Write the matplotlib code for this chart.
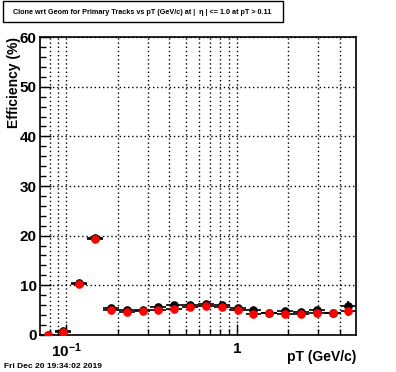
import numpy as np
import matplotlib
matplotlib.use("Agg")
import matplotlib.pyplot as plt
from matplotlib.patches import Rectangle
from matplotlib.ticker import FixedLocator, NullFormatter, MultipleLocator

plt.rcParams['font.family'] = ['Liberation Sans', 'DejaVu Sans']
plt.rcParams['mathtext.fontset'] = 'custom'
plt.rcParams['mathtext.rm'] = 'Liberation Sans:bold'
plt.rcParams['mathtext.bf'] = 'Liberation Sans:bold'
plt.rcParams['mathtext.default'] = 'bf'

# pT binning (log bins, 20 bins from 0.07 to 5 GeV/c)
pt_edges = np.geomspace(0.07, 5.0, 21)
pt = np.sqrt(pt_edges[:-1] * pt_edges[1:])

# efficiencies (%)
eff_black = [0.0, 0.7, 10.4, 19.5, 5.4, 5.0, 5.0, 5.6, 6.0, 6.1,
             6.3, 6.0, 5.4, 4.9, 4.4, 4.8, 4.6, 5.0, 4.4, 5.8]
eff_red = [0.0, 0.6, 10.2, 19.3, 4.9, 4.6, 4.7, 4.9, 5.2, 5.7,
           5.9, 5.6, 5.0, 4.2, 4.4, 4.2, 4.2, 4.4, 4.4, 4.8]
err_black = [0.1, 0.2, 0.3, 0.4, 0.2, 0.2, 0.2, 0.2, 0.2, 0.2,
             0.2, 0.2, 0.2, 0.2, 0.2, 0.3, 0.3, 0.4, 0.5, 1.0]
err_red = [0.1, 0.2, 0.3, 0.4, 0.2, 0.2, 0.2, 0.2, 0.2, 0.2,
           0.2, 0.2, 0.2, 0.2, 0.2, 0.3, 0.3, 0.4, 0.5, 1.0]

fig = plt.figure(figsize=(3.96, 3.72), dpi=100)
ax = fig.add_axes([0.1, 0.1, 0.8, 0.8])

xerr = [pt - pt_edges[:-1], pt_edges[1:] - pt]
ax.errorbar(pt, eff_black, xerr=xerr, yerr=err_black, fmt='o', ms=5.2,
            mfc='black', mec='black', ecolor='black', elinewidth=1.2,
            capsize=0, zorder=3)
ax.errorbar(pt, eff_red, xerr=xerr, yerr=err_red, fmt='o', ms=5.2,
            mfc='red', mec='red', ecolor='black', elinewidth=1.2,
            capsize=0, zorder=4)

ax.set_xscale('log')
ax.set_xlim(0.07, 5.0)
ax.set_ylim(0, 60)

ax.xaxis.set_major_locator(FixedLocator([0.1, 1.0]))
ax.xaxis.set_minor_locator(FixedLocator(
    [0.08, 0.09, 0.2, 0.3, 0.4, 0.5, 0.6, 0.7, 0.8, 0.9, 2, 3, 4]))
ax.xaxis.set_minor_formatter(NullFormatter())
ax.set_xticklabels([r'$10^{-1}$', '1'])
ax.yaxis.set_major_locator(MultipleLocator(10))
ax.yaxis.set_minor_locator(MultipleLocator(2))

ax.tick_params(which='both', direction='in', top=False, right=False,
               labelsize=11)
ax.tick_params(which='major', length=8, width=1)
ax.tick_params(which='minor', length=4.5, width=1)
ax.tick_params(axis='y', pad=2)
ax.tick_params(axis='x', pad=5)
for lab in ax.get_xticklabels() + ax.get_yticklabels():
    lab.set_fontweight('bold')

dots = (0, (1, 2))
ax.grid(True, which='both', axis='x', color='black', linestyle=dots, lw=1)
ax.grid(True, which='major', axis='y', color='black', linestyle=dots, lw=1)
ax.set_axisbelow(True)
for s in ax.spines.values():
    s.set_linewidth(1.2)

ax.set_ylabel('Efficiency (%)', fontsize=10, fontweight='bold', loc='top')
ax.yaxis.label.set_va('center')
ax.yaxis.set_label_coords(-0.08, 1.0)
ax.set_xlabel('pT (GeV/c)', fontsize=10, fontweight='bold', loc='right')
ax.xaxis.label.set_va('center')
ax.xaxis.set_label_coords(1.0, -0.074)

# title box
fig.patches.append(Rectangle((3 / 396, 1 - 22 / 372), 280 / 396, 21 / 372,
                             transform=fig.transFigure, fc='white',
                             ec='black', lw=1))
fig.text(142 / 396, 1 - 12 / 372,
         'Clone wrt Geom for Primary Tracks vs pT (GeV/c) at |  \u03b7 | <= 1.0 at pT > 0.11',
         ha='center', va='center', fontsize=5.2, fontweight='bold')

fig.text(4 / 396, 1 - 366 / 372, 'Fri Dec 20 19:34:02 2019',
         ha='left', va='center', fontsize=6, fontweight='bold')

fig.savefig('out.png', dpi=100)
